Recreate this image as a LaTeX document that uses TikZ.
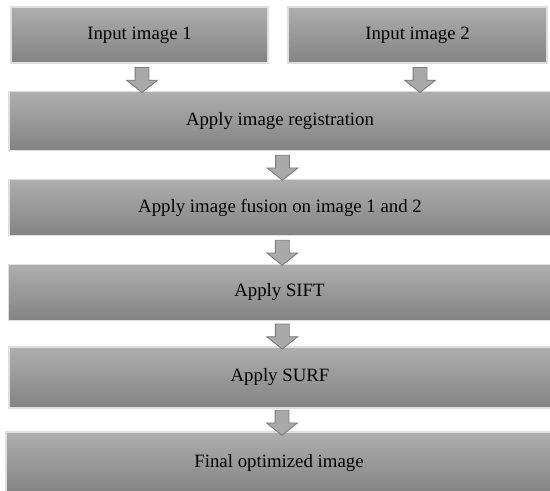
\documentclass[tikz,border=0pt]{standalone}
\usepackage{fontspec}
\setmainfont{Liberation Serif}
\usepackage{tikz}
\usetikzlibrary{
  positioning,
  calc,
  shapes.arrows
}
\definecolor{boxtop}{HTML}{AEAEAE}
\definecolor{boxbot}{HTML}{838383}
\definecolor{boxrim}{HTML}{DEDEDE}
\definecolor{arrfill}{HTML}{A9A9A9}
\definecolor{arrrim}{HTML}{7A7A7A}

\begin{document}
\begin{tikzpicture}[
    stage/.style={rectangle, draw=boxrim, line width=0.7pt, top color=boxtop, bottom color=boxbot,
                  font=\fontsize{10.7}{12}\selectfont, inner sep=0pt},
    half/.style={stage, minimum height=1.12cm},
    full/.style={stage, minimum width=10.84cm},
    dn/.style={single arrow, shape border rotate=270, draw=arrrim, fill=arrfill, line width=0.5pt,
               inner xsep=0.13cm, inner ysep=0pt, minimum width=0.60cm, minimum height=0.50cm,
               single arrow head extend=0.17cm, single arrow tip angle=103, xshift=0.05cm}
  ]
    \useasboundingbox (0,0) rectangle (11,-9.82);
    \node[half, minimum width=5.14cm] (in1) at (2.79,-0.70) {Input image 1};
    \node[half, minimum width=5.18cm] (in2) at (8.35,-0.70) {Input image 2};
    \node[full, minimum height=1.18cm] (reg) at (5.60,-2.42) {Apply image registration};
    \node[full, minimum height=1.12cm] (fus) at (5.60,-4.15) {Apply image fusion on image 1 and 2};
    \node[full, minimum height=1.12cm] (sift) at (5.59,-5.85) {Apply SIFT};
    \node[full, minimum height=1.22cm] (surf) at (5.60,-7.55) {Apply SURF};
    \node[full, minimum width=10.92cm, minimum height=1.24cm] (fin) at (5.58,-9.26) {Final optimized image};
    % block arrows between the stages
    \node[dn] (a1) at ($(in1.south)!.5!(reg.north -| in1.south)$) {};
    \node[dn] (a2) at ($(in2.south)!.5!(reg.north -| in2.south)$) {};
    \node[dn] (a3) at ($(reg.south)!.5!(fus.north)$) {};
    \node[dn] (a4) at ($(fus.south)!.5!(sift.north)$) {};
    \node[dn] (a5) at ($(sift.south)!.5!(surf.north)$) {};
    \node[dn] (a6) at ($(surf.south)!.5!(fin.north)$) {};
  \end{tikzpicture}
\end{document}
